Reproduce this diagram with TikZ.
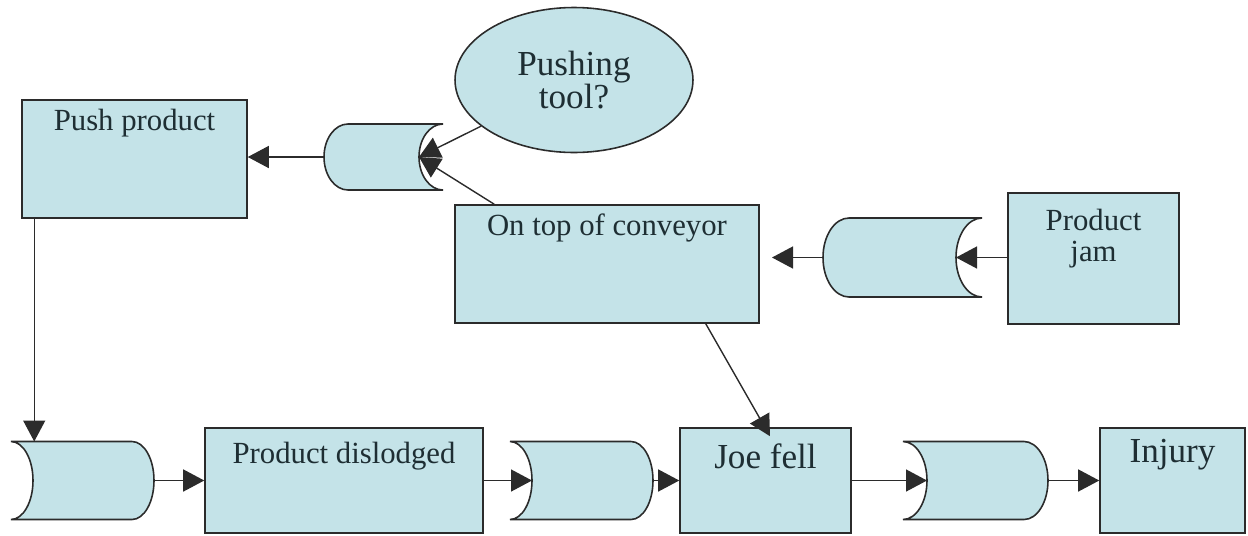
\documentclass[tikz,border=0pt]{standalone}
\usepackage{fontspec}
\setmainfont{Liberation Serif}
\usetikzlibrary{arrows.meta, positioning, shapes.geometric}
\definecolor{cfill}{HTML}{C4E3E8}
\definecolor{cline}{HTML}{2B2B2B}
\definecolor{ctext}{HTML}{1E2E33}
\tikzset{
  every picture/.style={line width=0.9pt},
  box/.style={draw=cline, fill=cfill, inner sep=0pt},
  txt/.style={anchor=north, text=ctext, align=center, inner sep=5pt, font=\fontsize{17.5}{18}\selectfont},
  bigtxt/.style={text=ctext, align=center, font=\fontsize{20}{17}\selectfont},
  arrow/.style={-{Triangle[length=0.42cm, width=0.44cm]}, draw=cline, line width=0.8pt},
  gate/.style={draw=cline, fill=cfill},
}
\tikzset{pics/orgate/.style n args={3}{code={
  \draw[gate] (-#1/2,-#2/2) -- (#1/2-#3,-#2/2) arc[start angle=-90, end angle=90, x radius=#3, y radius=#2/2]
    -- (-#1/2,#2/2) arc[start angle=90, end angle=-90, x radius=#3, y radius=#2/2] -- cycle;
  \coordinate (-in) at (-#1/2+#3,0);
  \coordinate (-out) at (#1/2,0);
  \coordinate (-top) at (0,#2/2);
}}}

\begin{document}
\begin{tikzpicture}[x=0.02cm, y=0.02cm]
  \useasboundingbox (0,0) rectangle (1248,-535);
  % events
  \node[box, minimum width=4.5cm, minimum height=2.36cm, label={[txt]north:Push product}] (push) at (134.5,-159) {};
  \node[box, minimum width=6.08cm, minimum height=2.36cm, label={[txt]north:On top of conveyor}] (conv) at (607,-264) {};
  \node[box, minimum width=3.42cm, minimum height=2.62cm, label={[txt, inner sep=9pt]north:{Product\\jam}}] (jam) at (1093.5,-258.5) {};
  \node[box, minimum width=5.56cm, minimum height=2.1cm, label={[txt, inner sep=8pt]north:Product dislodged}] (dislodged) at (344,-480.5) {};
  \node[box, minimum width=3.42cm, minimum height=2.1cm, label={[txt, bigtxt, inner sep=8.7pt]north:Joe fell}] (joe) at (765.5,-480.5) {};
  \node[box, minimum width=2.9cm, minimum height=2.1cm, label={[txt, bigtxt, inner sep=6.3pt]north:Injury}] (injury) at (1172.5,-480.5) {};
  \node[ellipse, draw=cline, fill=cfill, minimum width=4.76cm, minimum height=2.9cm, inner sep=0pt, bigtxt] (tool) at (574,-80) {Pushing\\tool?};
  % gates
  \pic[xscale=-1] (gTool) at (383.5,-157) {orgate={119}{66}{24}};
  \pic[xscale=-1] (gJam) at (902.5,-257.5) {orgate={159}{79}{26}};
  \pic (g1) at (82.5,-480.5) {orgate={143}{78}{22}};
  \pic (g2) at (581.5,-480.5) {orgate={143}{78}{22}};
  \pic (g3) at (975.5,-480.5) {orgate={145}{78}{24}};
  % connectors
  \coordinate (pushout) at ([xshift=0.26cm]push.south west);
  \coordinate (convin) at ([xshift=0.8cm]conv.north west);
  \coordinate (convout) at ([xshift=-1.08cm]conv.south east);
  \coordinate (jamend) at (772,-257.5);
  \draw[arrow] (gTool-out) -- (gTool-out -| push.east);
  \draw[arrow] (tool) -- (gTool-in);
  \draw[arrow] (convin) -- (gTool-in);
  \draw[arrow] (jam.west |- gJam-in) -- (gJam-in);
  \draw[arrow] (gJam-out) -- (jamend);
  \draw[arrow] (pushout) -- (pushout |- g1-top);
  \draw[arrow] (convout) -- ([xshift=0.09cm, yshift=-0.18cm]joe.north);
  \foreach \a/\b in {g1-out/dislodged.west, dislodged.east/g2-in, g2-out/joe.west, joe.east/g3-in, g3-out/injury.west}
    \draw[arrow] (\a) -- (\b);
\end{tikzpicture}
\end{document}
